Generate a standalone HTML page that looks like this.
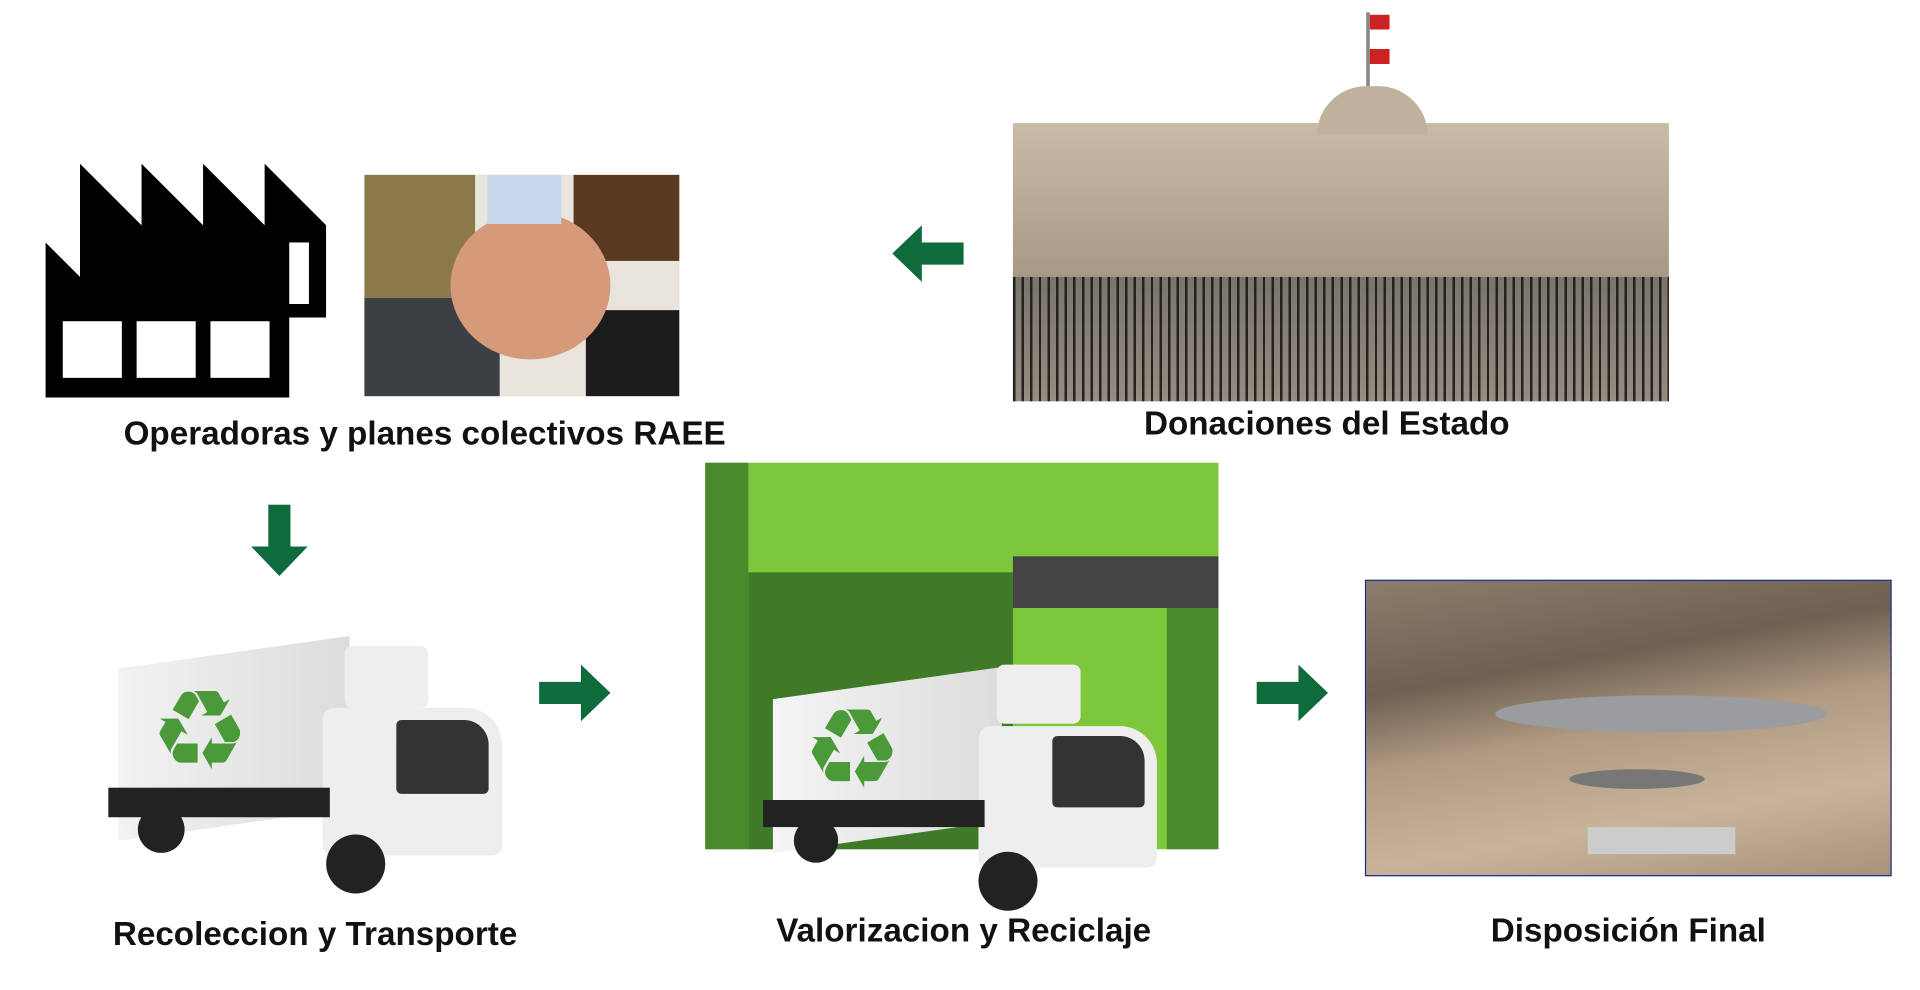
<!DOCTYPE html>
<html><head><meta charset="utf-8"><style>
html,body{margin:0;padding:0;background:#fff;overflow:hidden}
#w{position:absolute;left:0;top:0;width:1560px;height:804px;transform:scale(1.23077);transform-origin:0 0}
.a{position:absolute}
.l{position:absolute;font-family:"Liberation Sans",sans-serif;font-weight:bold;font-size:27px;color:#111;white-space:nowrap;transform:translateX(-50%)}
.r{font-family:'DejaVu Sans',sans-serif;color:#4a9a3a;font-size:90px;line-height:80px}
</style></head><body><div id="w">
<!-- factory -->
<svg class="a" style="left:37px;top:133px" width="228" height="192" viewBox="0 0 228 192">
<g fill="#000">
<polygon points="28,0 78,50 78,0 128,50 128,0 178,50 178,0 228,50 228,125 28,125"/>
<polygon points="0,64 48,112 48,64 98,112 98,64 148,112 148,64 198,112 198,190 0,190"/>
</g>
<g fill="#fff"><rect x="198" y="64" width="16" height="50"/><rect x="14" y="128" width="48" height="46"/><rect x="74" y="128" width="48" height="46"/><rect x="134" y="128" width="48" height="46"/></g>
</svg>
<!-- hands -->
<div class="a" style="left:296px;top:142px;width:256px;height:180px;overflow:hidden;background:#e9e4dc">
<div class="a" style="left:0;top:0;width:90px;height:100px;background:#8a7a4a"></div>
<div class="a" style="left:170px;top:0;width:86px;height:70px;background:#5a3a22"></div>
<div class="a" style="left:0;top:100px;width:110px;height:80px;background:#3c3f44"></div>
<div class="a" style="left:180px;top:110px;width:76px;height:70px;background:#1c1c1c"></div>
<div class="a" style="left:70px;top:30px;width:130px;height:120px;border-radius:50%;background:#d49a7a"></div>
<div class="a" style="left:100px;top:0;width:60px;height:40px;background:#c8d8ea"></div>
</div>
<div class="l" style="left:345px;top:337px">Operadoras y planes colectivos RAEE</div>
<!-- left arrow -->
<svg class="a" style="left:725px;top:183px" width="58" height="46"><polygon points="0,23 24,0 24,14 58,14 58,32 24,32 24,46" fill="#0e6b3c"/></svg>
<!-- palace -->
<div class="a" style="left:1110px;top:10px;width:3px;height:70px;background:#888"></div>
<div class="a" style="left:1113px;top:12px;width:16px;height:40px;background:linear-gradient(#c22 0,#c22 30%,#fff 30%,#fff 70%,#c22 70%)"></div>
<div class="a" style="left:823px;top:100px;width:533px;height:226px;background:linear-gradient(#c9bba6,#a89987 55%,#8d8577)"></div>
<div class="a" style="left:1070px;top:70px;width:90px;height:40px;background:#c0b29c;border-radius:40px 40px 0 0"></div>
<div class="a" style="left:823px;top:225px;width:533px;height:101px;background:repeating-linear-gradient(90deg,#222 0 2px,transparent 2px 7px),linear-gradient(#7a746c,#968c80)"></div>
<div class="l" style="left:1078px;top:329px">Donaciones del Estado</div>
<!-- down arrow -->
<svg class="a" style="left:204px;top:410px" width="46" height="58"><polygon points="14,0 32,0 32,34 46,34 23,58 0,34 14,34" fill="#0e6b3c"/></svg>
<!-- truck 1 -->
<div class="a" style="left:96px;top:530px;width:188px;height:140px;background:linear-gradient(90deg,#f2f2f2,#dcdcdc);transform:skewY(-8deg)"></div>
<div class="a" style="left:280px;top:525px;width:68px;height:50px;background:#eee;border-radius:6px"></div>
<div class="a" style="left:262px;top:575px;width:146px;height:120px;background:#eee;border-radius:10px 30px 8px 8px"></div>
<div class="a" style="left:322px;top:585px;width:75px;height:60px;background:#333;border-radius:4px 20px 4px 4px"></div>
<div class="a" style="left:88px;top:640px;width:180px;height:24px;background:#222"></div>
<div class="a" style="left:265px;top:678px;width:48px;height:48px;border-radius:50%;background:#222"></div>
<div class="a" style="left:112px;top:655px;width:38px;height:38px;border-radius:50%;background:#222"></div>
<div class="a r" style="left:122px;top:555px">♻</div>
<!-- right arrow 1 -->
<svg class="a" style="left:438px;top:540px" width="58" height="46"><polygon points="0,14 34,14 34,0 58,23 34,46 34,32 0,32" fill="#0e6b3c"/></svg>
<!-- green building -->
<div class="a" style="left:573px;top:376px;width:417px;height:314px;background:#7cc73a"></div>
<div class="a" style="left:573px;top:376px;width:35px;height:314px;background:#4b8a2a"></div>
<div class="a" style="left:608px;top:465px;width:215px;height:225px;background:#3f7a28"></div>
<div class="a" style="left:823px;top:452px;width:167px;height:42px;background:#444"></div>
<div class="a" style="left:948px;top:494px;width:42px;height:196px;background:#4b8a2a"></div>
<!-- truck 2 -->
<div class="a" style="left:628px;top:555px;width:186px;height:125px;background:linear-gradient(90deg,#f4f4f4,#dcdcdc);transform:skewY(-8deg)"></div>
<div class="a" style="left:810px;top:540px;width:68px;height:48px;background:#eee;border-radius:6px"></div>
<div class="a" style="left:795px;top:590px;width:145px;height:115px;background:#eee;border-radius:10px 30px 8px 8px"></div>
<div class="a" style="left:855px;top:598px;width:75px;height:58px;background:#333;border-radius:4px 20px 4px 4px"></div>
<div class="a" style="left:620px;top:650px;width:180px;height:22px;background:#222"></div>
<div class="a" style="left:795px;top:692px;width:48px;height:48px;border-radius:50%;background:#222"></div>
<div class="a" style="left:645px;top:665px;width:36px;height:36px;border-radius:50%;background:#222"></div>
<div class="a r" style="left:652px;top:570px">♻</div>
<!-- right arrow 2 -->
<svg class="a" style="left:1021px;top:540px" width="58" height="46"><polygon points="0,14 34,14 34,0 58,23 34,46 34,32 0,32" fill="#0e6b3c"/></svg>
<!-- landfill -->
<div class="a" style="left:1109px;top:471px;width:426px;height:239px;border:1px solid #1a237e;background:linear-gradient(170deg,#8c7d6c 0%,#6e6052 30%,#b09a82 50%,#c8b49a 75%,#a8927a)"></div>
<div class="a" style="left:1215px;top:565px;width:270px;height:30px;background:#9a9ca0;border-radius:50%"></div>
<div class="a" style="left:1275px;top:625px;width:110px;height:16px;background:#777;border-radius:50%"></div>
<div class="a" style="left:1290px;top:672px;width:120px;height:22px;background:#ccc"></div>
<div class="l" style="left:256px;top:744px">Recoleccion y Transporte</div>
<div class="l" style="left:783px;top:741px">Valorizacion y Reciclaje</div>
<div class="l" style="left:1323px;top:741px">Disposición Final</div>
</div></body></html>
